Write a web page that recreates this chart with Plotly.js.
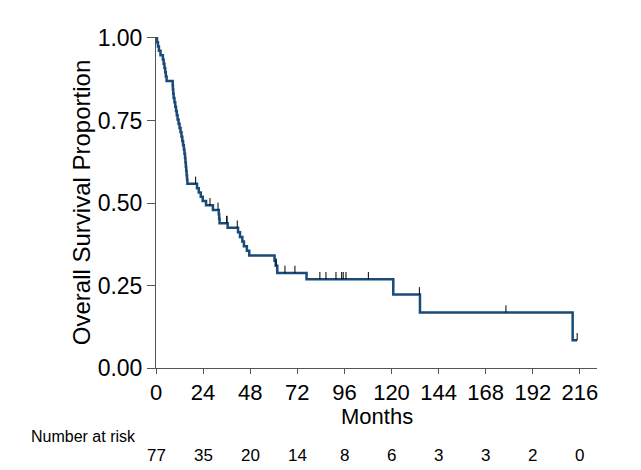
<!DOCTYPE html>
<html>
<head>
<meta charset="utf-8">
<script src="https://cdn.plot.ly/plotly-3.0.1.min.js"></script>
<style>html,body{margin:0;padding:0;background:#fff;}#chart{width:641px;height:470px;}</style>
</head>
<body>
<div id="chart"></div>
<script>
// Kaplan-Meier step data (months, survival proportion after each event)
const months = [0, 0.5, 1.0, 1.5, 2.3, 3.5, 3.9, 4.3, 4.7, 5.0, 5.4, 8.5, 8.6, 8.8, 9.0, 9.4, 9.8, 10.2, 10.6, 11.0, 11.5, 12.0, 12.5, 13.0, 13.4, 13.8, 14.2, 14.5, 14.8, 15.0, 15.2, 15.4, 15.6, 15.8, 16.0, 20.9, 21.8, 22.8, 23.8, 25.5, 29.0, 32.0, 32.2, 32.4, 36.5, 41.8, 42.8, 44.0, 44.8, 46.3, 47.5, 60.4, 61.0, 61.8, 76.7, 120.9, 134.5, 212.3, 214.6];
const survival = [1, 0.987, 0.974, 0.961, 0.948, 0.935, 0.922, 0.909, 0.896, 0.883, 0.870, 0.857, 0.844, 0.831, 0.818, 0.805, 0.792, 0.779, 0.766, 0.753, 0.740, 0.727, 0.714, 0.701, 0.688, 0.675, 0.662, 0.649, 0.636, 0.623, 0.610, 0.597, 0.584, 0.571, 0.558, 0.545, 0.532, 0.519, 0.506, 0.493, 0.479, 0.465, 0.452, 0.439, 0.425, 0.411, 0.397, 0.383, 0.369, 0.355, 0.341, 0.325, 0.310, 0.288, 0.269, 0.223, 0.168, 0.084, 0.084];

// Censored observations
const censorMonths = [20.2, 27.5, 31.6, 36.0, 36.2, 41.4, 61.2, 65.7, 70.8, 83.5, 86.6, 91.7, 94.6, 95.4, 96.8, 108.2, 134.2, 178.3, 214.6];
const censorSurv = [0.558, 0.493, 0.479, 0.439, 0.439, 0.425, 0.310, 0.288, 0.288, 0.269, 0.269, 0.269, 0.269, 0.269, 0.269, 0.269, 0.223, 0.168, 0.084];

// Number at risk table
const riskTimes = [0, 24, 48, 72, 96, 120, 144, 168, 192, 216];
const riskCounts = [77, 35, 20, 14, 8, 6, 3, 3, 2, 0];

const yTicks = [0, 0.25, 0.5, 0.75, 1];
const xTicks = [0, 24, 48, 72, 96, 120, 144, 168, 192, 216];

const FONT = 'Liberation Sans, Arial, sans-serif';

const traces = [
  {
    x: months, y: survival, type: 'scatter', mode: 'lines',
    line: {shape: 'hv', color: '#1a4a78', width: 2.5},
    hoverinfo: 'skip', showlegend: false
  },
  {
    x: censorMonths, y: censorSurv, type: 'scatter', mode: 'markers',
    marker: {size: 1, color: 'rgba(0,0,0,0)'},
    error_y: {type: 'data', symmetric: false, array: censorSurv.map(() => 0.022), arrayminus: censorSurv.map(() => 0), width: 0, thickness: 1, color: '#000'},
    hoverinfo: 'skip', showlegend: false
  }
];

const annotations = [
  {
    text: 'Months', xref: 'paper', yref: 'paper', x: 0.5, y: -0.146,
    xanchor: 'center', yanchor: 'middle', showarrow: false,
    font: {family: FONT, size: 22, color: '#000'}
  },
  {
    text: 'Number at risk', xref: 'paper', yref: 'paper', x: -0.288, y: -0.208,
    xanchor: 'left', yanchor: 'middle', showarrow: false,
    font: {family: FONT, size: 16, color: '#000'}
  }
];
riskTimes.forEach((t, i) => {
  annotations.push({
    text: String(riskCounts[i]), xref: 'x', yref: 'paper', x: t, y: -0.263,
    xanchor: 'center', yanchor: 'middle', showarrow: false,
    font: {family: FONT, size: 17, color: '#000'}
  });
});

const layout = {
  width: 641, height: 470,
  margin: {l: 156, r: 44, t: 37, b: 102},
  paper_bgcolor: '#fff', plot_bgcolor: '#fff',
  font: {family: FONT, color: '#000'},
  showlegend: false,
  xaxis: {
    range: [0, 224.7], tickvals: xTicks, ticktext: xTicks.map(String),
    showgrid: false, zeroline: false, showline: true, linecolor: '#555', linewidth: 1,
    ticks: 'outside', ticklen: 5, tickcolor: '#555', tickwidth: 1,
    tickfont: {family: FONT, size: 22, color: '#000'}
  },
  yaxis: {
    range: [0, 1.003], tickvals: yTicks, ticktext: yTicks.map(v => v.toFixed(2)),
    showgrid: false, zeroline: false, showline: true, linecolor: '#555', linewidth: 1,
    ticks: 'outside', ticklen: 8, tickcolor: '#555', tickwidth: 1,
    tickfont: {family: FONT, size: 23, color: '#000'},
    title: {text: 'Overall Survival Proportion', font: {family: FONT, size: 24, color: '#000'}, standoff: 0}
  },
  annotations: annotations
};

Plotly.newPlot('chart', traces, layout, {displayModeBar: false, staticPlot: true});
</script>
</body>
</html>
